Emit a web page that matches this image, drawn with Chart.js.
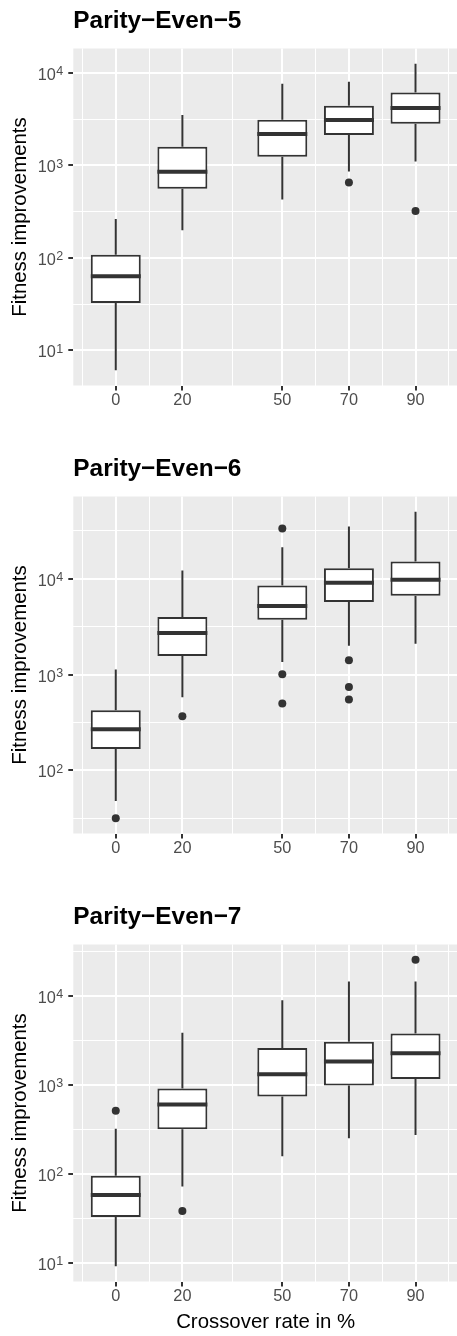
<!DOCTYPE html>
<html>
<head>
<meta charset="utf-8">
<title>Fitness improvements by crossover rate</title>
<script src="https://cdn.jsdelivr.net/npm/chart.js@4.4.1/dist/chart.umd.min.js"></script>
<style>
  html, body { margin: 0; padding: 0; background: #fff; overflow: hidden; }
  #wrap { position: relative; width: 457px; height: 1336px; overflow: hidden; }
  canvas { position: absolute; left: 0; }
</style>
</head>
<body>
<div id="wrap">
  <canvas id="even5" width="462" height="448" style="top:0"></canvas>
  <canvas id="even6" width="462" height="448" style="top:448px"></canvas>
  <canvas id="even7" width="462" height="440" style="top:896px"></canvas>
</div>
<script>
// crossover rates (%) used as x positions
const rates = [0, 20, 50, 70, 90];

// y axis decades: drawn as base with a raised exponent
const decades = [1, 2, 3, 4];
const decadeBase = '10';
const decadeExponents = ['1', '2', '3', '4'];

// Parity-Even-5
const even5Low      = [6.1, 198, 428, 859, 1102];
const even5Q1       = [32.5, 558, 1238, 2123, 2812];
const even5Median   = [63, 853, 2178, 3083, 4160];
const even5Q3       = [108, 1588, 3105, 4400, 6125];
const even5High     = [263, 3490, 7605, 8000, 12500];
const even5Outliers = [[70, 653], [90, 321]];

// Parity-Even-6
const even6Low      = [47.9, 580, 1355, 2004, 2104];
const even6Q1       = [167, 1563, 3740, 5710, 6650];
const even6Median   = [269, 2713, 5190, 9080, 9770];
const even6Q3       = [425, 3980, 8520, 12900, 15150];
const even6High     = [1127, 12200, 21300, 35100, 49900];
const even6Outliers = [[0, 31.8], [20, 368], [50, 33400], [50, 1007], [50, 499],
                       [70, 1410], [70, 743], [70, 549]];

// Parity-Even-7
const even7Low      = [9.1, 71.8, 157, 250, 271];
const even7Q1       = [32.5, 316, 735, 977, 1161];
const even7Median   = [57.4, 598, 1310, 1816, 2253];
const even7Q3       = [94.6, 903, 2590, 3047, 3750];
const even7High     = [319, 3845, 8870, 14500, 14500];
const even7Outliers = [[0, 508], [20, 37.9], [90, 25350]];

const INK = '#333333';
const LABEL = '#4D4D4D';
const FONT = "'Liberation Sans', Arial, Helvetica, sans-serif";
const BOX_HALF = 7.5;   // half box width in x units

// grey panel behind the grid
const panelBackground = {
  id: 'panelBackground',
  beforeDraw(chart) {
    const { ctx, chartArea: a } = chart;
    ctx.save();
    ctx.fillStyle = '#EBEBEB';
    ctx.fillRect(a.left, a.top, a.right - a.left, a.bottom - a.top);
    ctx.restore();
  }
};

// y tick labels as 10 with a superscript exponent
const powerLabels = {
  id: 'powerLabels',
  afterDraw(chart) {
    const s = chart.scales.y;
    const ctx = chart.ctx;
    const right = s.right - 10;
    ctx.save();
    ctx.fillStyle = LABEL;
    ctx.textBaseline = 'alphabetic';
    ctx.textAlign = 'right';
    s.ticks.forEach(t => {
      if (t.minor) return;
      const i = decades.indexOf(Math.round(Math.log10(t.value)));
      if (i < 0) return;
      const y = s.getPixelForValue(t.value);
      ctx.font = '12.5px ' + FONT;
      const ew = ctx.measureText(decadeExponents[i]).width;
      ctx.fillText(decadeExponents[i], right, y + 2.5);
      ctx.font = '16.3px ' + FONT;
      ctx.fillText(decadeBase, right - ew - 0.5, y + 7);
    });
    ctx.restore();
  }
};

function makePanel(id, title, low, q1, med, q3, high, outliers, showXTitle, xAxisHeight) {
  // 5% padding around the data, on a log scale for y
  const yValues = low.concat(high, outliers.map(o => o[1]));
  const lLo = Math.log10(Math.min(...yValues));
  const lHi = Math.log10(Math.max(...yValues));
  const yPad = (lHi - lLo) * 0.05;
  const yMin = Math.pow(10, lLo - yPad), yMax = Math.pow(10, lHi + yPad);

  const xLo = rates[0] - BOX_HALF, xHi = rates[rates.length - 1] + BOX_HALF;
  const xPad = (xHi - xLo) * 0.05;
  const xMin = xLo - xPad, xMax = xHi + xPad;

  // minor x grid halfway between rates, plus one step past each end
  const xMinor = [rates[0] - (rates[1] - rates[0]) / 2];
  for (let i = 1; i < rates.length; i++) xMinor.push((rates[i - 1] + rates[i]) / 2);
  xMinor.push(rates[rates.length - 1] + (rates[rates.length - 1] - rates[rates.length - 2]) / 2);

  // y ticks: decades plus half-decade minor lines
  const yTicks = [];
  for (let k = Math.floor(lLo - yPad) - 1; k <= Math.ceil(lHi + yPad); k++) {
    [k, k + 0.5].forEach(e => {
      const v = Math.pow(10, e);
      if (v >= yMin && v <= yMax) yTicks.push({ value: v, minor: e !== k });
    });
  }

  const whiskers = [], medians = [];
  rates.forEach((r, i) => {
    whiskers.push({ x: r, y: low[i] }, { x: r, y: q1[i] }, { x: r, y: null },
                  { x: r, y: q3[i] }, { x: r, y: high[i] }, { x: r, y: null });
    medians.push({ x: r - BOX_HALF, y: med[i] }, { x: r + BOX_HALF, y: med[i] }, { x: r, y: null });
  });

  const tickFont = { family: FONT, size: 16.3 };
  const titleFont = { family: FONT, size: 20.4 };

  return new Chart(document.getElementById(id), {
    type: 'bar',
    data: {
      datasets: [
        {
          type: 'scatter',
          data: outliers.map(o => ({ x: o[0], y: o[1] })),
          pointRadius: 4, pointBackgroundColor: INK, pointBorderWidth: 0,
          order: 0
        },
        {
          type: 'line', data: medians,
          borderColor: INK, borderWidth: 4, borderCapStyle: 'butt',
          pointRadius: 0, spanGaps: false, order: 1
        },
        {
          type: 'bar',
          data: rates.map((r, i) => ({ x: r, y: [q1[i], q3[i]] })),
          backgroundColor: '#FFFFFF', borderColor: INK, borderWidth: 2, borderSkipped: false,
          categoryPercentage: 1, barPercentage: 0.75, order: 2
        },
        {
          type: 'line', data: whiskers,
          borderColor: INK, borderWidth: 2, borderCapStyle: 'butt',
          pointRadius: 0, spanGaps: false, order: 3
        }
      ]
    },
    options: {
      responsive: false,
      animation: false,
      events: [],
      layout: { padding: 0 },
      plugins: {
        legend: { display: false },
        tooltip: { enabled: false },
        title: {
          display: true, text: title, align: 'start', fullSize: false, color: '#000',
          font: { family: FONT, size: 24.4, weight: 'bold' },
          padding: { top: 7, bottom: 12.2 }
        }
      },
      scales: {
        x: {
          type: 'linear', position: 'bottom', min: xMin, max: xMax, offset: false,
          afterBuildTicks: s => { s.ticks = rates.map(v => ({ value: v })); },
          afterFit: s => { s.height = xAxisHeight; },
          ticks: { callback: v => String(v), color: LABEL, font: tickFont, padding: 0, autoSkip: false, maxRotation: 0 },
          grid: { offset: false, color: '#FFFFFF', lineWidth: 2, tickColor: INK, tickLength: 5, tickWidth: 2 },
          border: { display: false },
          title: { display: showXTitle, text: 'Crossover rate in %', color: '#000', font: titleFont, padding: { top: 0, bottom: 1 } }
        },
        xMinor: {
          type: 'linear', position: 'bottom', min: xMin, max: xMax, offset: false,
          afterBuildTicks: s => { s.ticks = xMinor.filter(v => v >= xMin && v <= xMax).map(v => ({ value: v })); },
          afterFit: s => { s.height = 0; },
          ticks: { display: false },
          grid: { offset: false, color: '#FFFFFF', lineWidth: 1, drawTicks: false },
          border: { display: false }
        },
        y: {
          type: 'logarithmic', position: 'left', min: yMin, max: yMax,
          afterBuildTicks: s => { s.ticks = yTicks.map(t => ({ value: t.value, minor: t.minor })); },
          afterFit: s => { s.width = 73.3; },
          // labels are painted by the powerLabels plugin
          ticks: { callback: () => '', font: tickFont, padding: 5, autoSkip: false },
          grid: {
            offset: false,
            color: '#FFFFFF',
            lineWidth: c => (c.tick && c.tick.minor ? 1 : 2),
            tickColor: c => (c.tick && c.tick.minor ? 'rgba(0,0,0,0)' : INK),
            tickLength: 5, tickWidth: 2
          },
          border: { display: false },
          title: { display: true, text: 'Fitness improvements', color: '#000', font: titleFont, padding: { top: 7.8, bottom: 0 } }
        }
      }
    },
    plugins: [panelBackground, powerLabels]
  });
}

makePanel('even5', 'Parity−Even−5', even5Low, even5Q1, even5Median, even5Q3, even5High, even5Outliers, false, 62.5);
makePanel('even6', 'Parity−Even−6', even6Low, even6Q1, even6Median, even6Q3, even6High, even6Outliers, false, 62.5);
makePanel('even7', 'Parity−Even−7', even7Low, even7Q1, even7Median, even7Q3, even7High, even7Outliers, true, 54.5);
</script>
</body>
</html>
